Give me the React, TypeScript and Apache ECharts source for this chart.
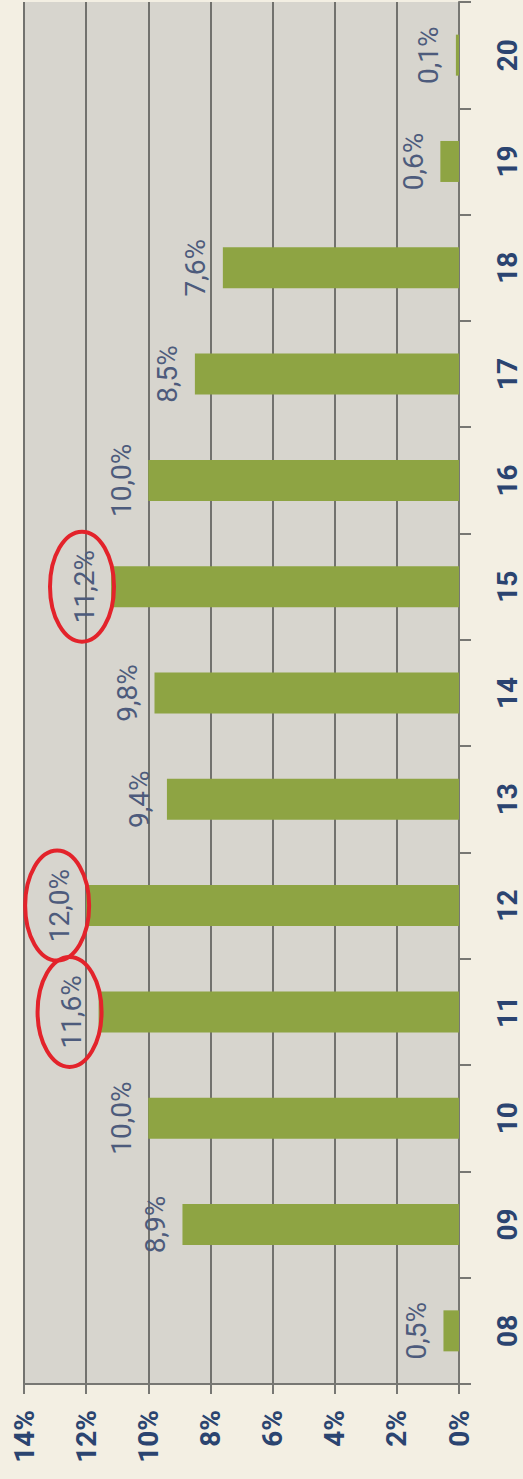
import React, { useEffect, useRef } from "react";
import * as echarts from "echarts";

const categories = ["08", "09", "10", "11", "12", "13", "14", "15", "16", "17", "18", "19", "20"];
const shares = [0.5, 8.9, 10.0, 11.6, 12.0, 9.4, 9.8, 11.2, 10.0, 8.5, 7.6, 0.6, 0.1];
const valueTicks = { min: 0, max: 14, interval: 2 };
const circled = ["11", "12", "15"];

const fmt = (v: number) => v.toFixed(1).replace(".", ",") + "%";

export default function App() {
  const ref = useRef<HTMLDivElement>(null);
  useEffect(() => {
    if (!ref.current) return;
    const chart = echarts.init(ref.current, null, { renderer: "svg" });
    const labelDistance = 13;
    chart.setOption({
      animation: false,
      backgroundColor: "#f3efe3",
      grid: {
        left: 24,
        right: 64,
        top: 2,
        bottom: 95,
        show: true,
        backgroundColor: "#d7d5ce",
        borderWidth: 0,
      },
      xAxis: {
        type: "value",
        min: valueTicks.min,
        max: valueTicks.max,
        interval: valueTicks.interval,
        inverse: true,
        position: "bottom",
        axisLine: { show: true, onZero: false, lineStyle: { color: "#777773", width: 2 } },
        axisTick: { show: true, length: 10, lineStyle: { color: "#777773", width: 2 } },
        splitLine: { show: true, lineStyle: { color: "#72726e", width: 2 } },
        axisLabel: {
          rotate: 90,
          margin: 26,
          fontSize: 28,
          fontWeight: "bold",
          fontFamily: "Roboto",
          color: "#2b4470",
          formatter: (v: number) => v + "%",
        },
      },
      yAxis: {
        type: "category",
        data: categories,
        position: "right",
        axisLine: { show: true, onZero: false, lineStyle: { color: "#777773", width: 2 } },
        axisTick: { show: true, length: 12, lineStyle: { color: "#777773", width: 2 } },
        splitLine: { show: false },
        axisLabel: {
          interval: 0,
          rotate: 90,
          margin: 34,
          fontSize: 28,
          fontWeight: "bold",
          fontFamily: "Roboto",
          color: "#2b4470",
        },
      },
      series: [
        {
          type: "bar",
          data: shares,
          barWidth: 41,
          itemStyle: { color: "#8ea443" },
          label: {
            show: true,
            position: "left",
            distance: labelDistance,
            rotate: 90,
            align: "center",
            verticalAlign: "bottom",
            fontSize: 28,
            fontFamily: "Roboto",
            color: "#4d5b7c",
            formatter: (p: any) => fmt(p.value),
          },
        },
      ],
    });
    const ellipses = circled.map((cat) => {
      const idx = categories.indexOf(cat);
      const pt = chart.convertToPixel({ xAxisIndex: 0, yAxisIndex: 0 }, [shares[idx], idx]) as number[];
      return {
        type: "ellipse",
        shape: { cx: pt[0] - labelDistance - 16, cy: pt[1], rx: 32, ry: 55 },
        style: { fill: "none", stroke: "#e3232b", lineWidth: 4 },
        z: 100,
      };
    });
    chart.setOption({ graphic: ellipses });
    return () => chart.dispose();
  }, []);
  return (
    <div
      ref={ref}
      style={{ position: "absolute", left: 0, top: 0, width: 523, height: 1479 }}
    />
  );
}
